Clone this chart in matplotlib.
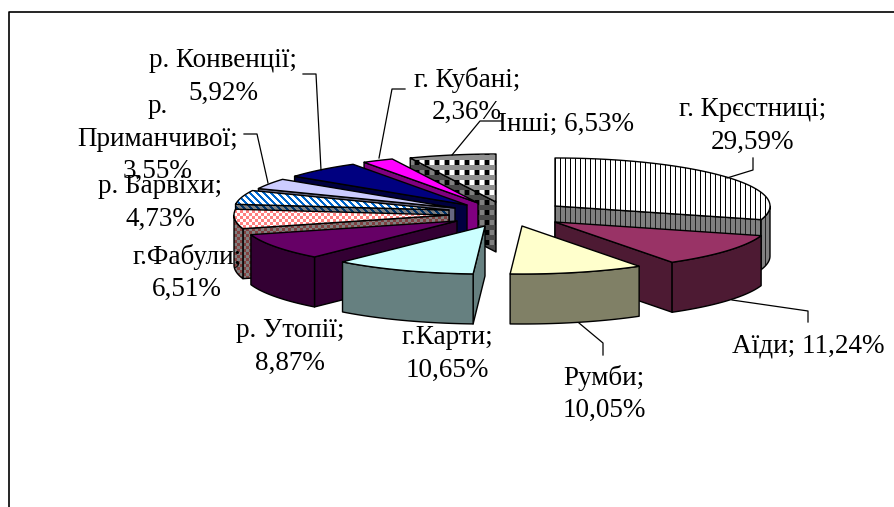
import numpy as np
import matplotlib
matplotlib.use("Agg")
import matplotlib.pyplot as plt
from matplotlib.patches import Polygon

plt.rcParams['font.family'] = ['Liberation Serif', 'DejaVu Serif']

names = ["г. Крєстниці", "Аїди", "Румби", "г.Карти", "р. Утопії", "г.Фабули",
         "р. Барвіхи", "р.\nПриманчивої", "р. Конвенції", "г. Кубані", "Інші"]
shares = [29.59, 11.24, 10.05, 10.65, 8.87, 6.51, 4.73, 3.55, 5.92, 2.36, 6.53]
one_line = ["Аїди", "Інші"]

W, H = 895, 507
RX, RY, DEPTH = 215, 48, 50

# where each exploded slice has its tip, canvas pixels
tips = [(555, 206), (555, 222), (522, 226), (485, 226), (457, 221), (449, 215),
        (449, 210), (455, 208), (467, 205), (478, 203), (496, 202)]
label_pos = [(753, 126), (808, 346), (604, 394), (447, 354), (290, 347), (187, 273),
             (160, 203), (158, 139), (223, 77), (467, 96), (566, 124)]
leaders = [[(753, 158), (753, 170), (727, 178)],
           [(808, 322), (808, 311), (732, 300)],
           [(603, 355), (603, 343), (579, 323)],
           [(244, 134), (257, 134), (268, 183)],
           [(303, 74), (316, 74), (321, 170)],
           [(405, 89), (392, 89), (379, 158)],
           [(502, 121), (480, 121), (452, 155)]]
# back slices go first so the front ones cover them
draw_order = [10, 9, 8, 7, 6, 5, 4, 3, 0, 1, 2]


def rgb(c):
    return np.array(matplotlib.colors.to_rgb(c))


def canvas(mask_fn, fg, bg):
    yy, xx = np.mgrid[0:H, 0:W]
    img = np.zeros((H, W, 3))
    img[:] = rgb(bg)
    img[mask_fn(xx, yy)] = rgb(fg)
    return img


def stripes(fg, bg):
    return canvas(lambda x, y: x % 5 < 1, fg, bg)


def checker(fg, bg):
    return canvas(lambda x, y: (x // 3 + y // 3) % 2 == 0, fg, bg)


def diagonal(fg, bg):
    return canvas(lambda x, y: (x - y) % 7 < 3, fg, bg)


def plaid(light, gray, dark):
    yy, xx = np.mgrid[0:H, 0:W]
    img = np.zeros((H, W, 3))
    img[:] = rgb(gray)
    row = yy % 10 < 5
    img[row & (xx % 10 < 4)] = rgb(light)
    img[row & (xx % 10 >= 5) & (xx % 10 < 9)] = rgb(dark)
    return img


top_fill = ["stripes", "#993366", "#FFFFCC", "#CCFFFF", "#660066", "checker",
            "diagonal", "#CCCCFF", "#000080", "#FF00FF", "plaid"]
side_fill = ["#808080", "#4D1A33", "#808066", "#668080", "#330033", "#804040",
             "#003366", "#666680", "#000040", "#800080", "#404040"]
textures = {
    0: (stripes("black", "white"), stripes("#202020", "#808080")),
    5: (checker("#FF8080", "white"), checker("#804040", "#808080")),
    6: (diagonal("#0066CC", "white"), diagonal("#003366", "#808080")),
    10: (plaid("white", "#909090", "black"), plaid("#808080", "#484848", "black")),
}

fig = plt.figure(figsize=(W / 100, H / 100), dpi=100)
ax = fig.add_axes([0, 0, 1, 1])
z = [1]


def rim(tip, a):
    a = np.radians(a)
    return tip[0] + RX * np.sin(a), tip[1] - RY * np.cos(a)


def face(points, color, texture=None):
    z[0] += 1
    poly = Polygon(points, closed=True, facecolor=color, edgecolor="black",
                   linewidth=1.0, joinstyle="round", zorder=z[0] + 0.5)
    ax.add_patch(poly)
    if texture is not None:
        poly.set_facecolor("none")
        clip = Polygon(points, closed=True, transform=ax.transData)
        im = ax.imshow(texture, extent=(0, W, H, 0), interpolation="nearest",
                       aspect="auto", zorder=z[0])
        im.set_clip_path(clip)


def extrude(points):
    return list(points) + [(x, y + DEPTH) for x, y in reversed(points)]


edges = np.cumsum([0] + shares) / sum(shares) * 360

for i in draw_order:
    a0, a1 = edges[i], edges[i + 1]
    tip = tips[i]
    tex_top, tex_side = textures.get(i, (None, None))
    mid = rim(tip, (a0 + a1) / 2)

    # cut faces that look towards the viewer
    for a in (a0, a1):
        q = rim(tip, a)
        dx = q[0] - tip[0]
        if abs(dx) < 1e-6:
            continue
        line_y = tip[1] + (mid[0] - tip[0]) * (q[1] - tip[1]) / dx
        if mid[1] < line_y:
            face(extrude([tip, q]), side_fill[i], tex_side)

    # outer wall, only the front half of the rim shows
    lo, hi = max(a0, 90), min(a1, 270)
    if lo < hi:
        arc = [rim(tip, a) for a in np.linspace(lo, hi, 60)]
        face(extrude(arc), side_fill[i], tex_side)

    top = [tip] + [rim(tip, a) for a in np.linspace(a0, a1, 80)]
    face(top, "white" if tex_top is not None else top_fill[i], tex_top)

for pts in leaders:
    xs, ys = zip(*pts)
    ax.plot(xs, ys, color="black", lw=0.9, zorder=200)

for name, val, (x, y) in zip(names, shares, label_pos):
    sep = " " if name in one_line else "\n"
    pct = f"{val:.2f}".replace(".", ",")
    ax.text(x, y, f"{name};{sep}{pct}%", ha="center", va="center",
            fontsize=19.5, linespacing=1.41, color="black", zorder=300)

# chart frame, open at the bottom
ax.plot([9, 9, W], [H, 12, 12], color="black", lw=1.2, zorder=300)

ax.set_xlim(0, W)
ax.set_ylim(H, 0)
ax.axis("off")
fig.savefig("out.png", dpi=100, facecolor="white")
